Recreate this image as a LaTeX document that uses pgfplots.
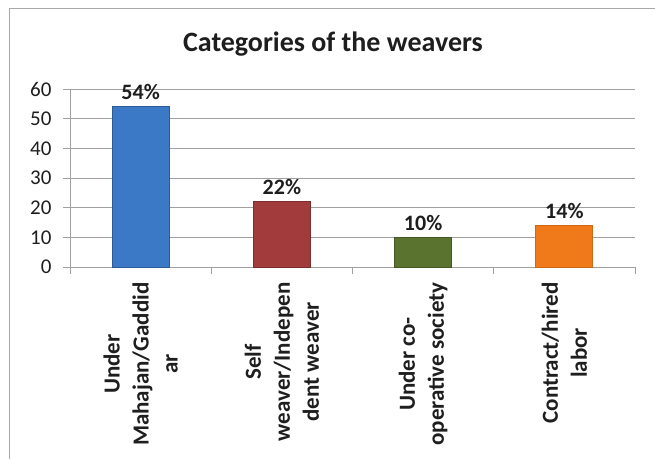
\documentclass[border=0pt]{standalone}
\usepackage{fontspec}
\setmainfont{Carlito}
\usepackage{pgfplots}
\pgfplotsset{compat=1.18}
\definecolor{gridgray}{HTML}{A0A0A0}
\definecolor{framegray}{HTML}{A8A8A8}
\definecolor{barblue}{HTML}{3B78C6}
\definecolor{barred}{HTML}{A23C3C}
\definecolor{bargreen}{HTML}{5A7430}
\definecolor{barorange}{HTML}{F07A1A}
\definecolor{txt}{HTML}{1E1E1E}
\begin{document}
\begin{tikzpicture}[x=1pt,y=1pt]
\useasboundingbox (0,0) rectangle (655,459);
\draw[framegray, line width=1.5pt] (9.5,0) -- (9.5,450.5) -- (655,450.5);
\node[font=\bfseries\fontsize{28}{32}\selectfont, text=txt] at (333,415) {Categories of the weavers};
\begin{axis}[
  at={(70pt,192pt)}, anchor=south west,
  scale only axis, width=565pt, height=178pt,
  xmin=-0.5, xmax=3.5, ymin=0, ymax=60,
  ytick={0,10,...,60},
  xtick={0,1,2,3},
  xticklabels={{Under\\Mahajan/Gaddid\\ar},{Self\\weaver/Indepen\\dent weaver},{Under co-\\operative society},{Contract/hired\\labor}},
  axis x line=bottom, axis y line=left,
  axis line style={draw=gridgray, line width=1pt, -},
  ymajorgrids, grid style={draw=gridgray, line width=1pt},
  tick align=outside, major tick length=7pt,
  tick style={draw=gridgray, line width=1pt},
  major x tick style={draw=none},
  extra x ticks={-0.5,0.5,1.5,2.5,3.5},
  extra x tick labels={},
  extra x tick style={major x tick style={draw=gridgray, line width=1pt}, xmajorgrids=false, major tick length=7pt},
  /pgf/number format/assume math mode=true,
  yticklabel style={font=\fontsize{21}{25}\selectfont, text=txt, xshift=-8pt},
  xticklabel style={font=\bfseries\fontsize{23}{29}\selectfont, text=txt, yshift=-5pt, rotate=90, anchor=east, align=center},
  ybar, bar width=57pt, bar shift=0pt,
  nodes near coords={\pgfmathprintnumber{\pgfplotspointmeta}\%},
  nodes near coords style={font=\bfseries\fontsize{22}{24}\selectfont, text=txt, anchor=south, yshift=3pt},
  clip=false,
]
\addplot[fill=barblue, draw=barblue!75!black, line width=0.8pt] coordinates {(0,54)};
\addplot[fill=barred, draw=barred!75!black, line width=0.8pt] coordinates {(1,22)};
\addplot[fill=bargreen, draw=bargreen!75!black, line width=0.8pt] coordinates {(2,10)};
\addplot[fill=barorange, draw=barorange!85!black, line width=0.8pt] coordinates {(3,14)};
\end{axis}
\end{tikzpicture}
\end{document}
